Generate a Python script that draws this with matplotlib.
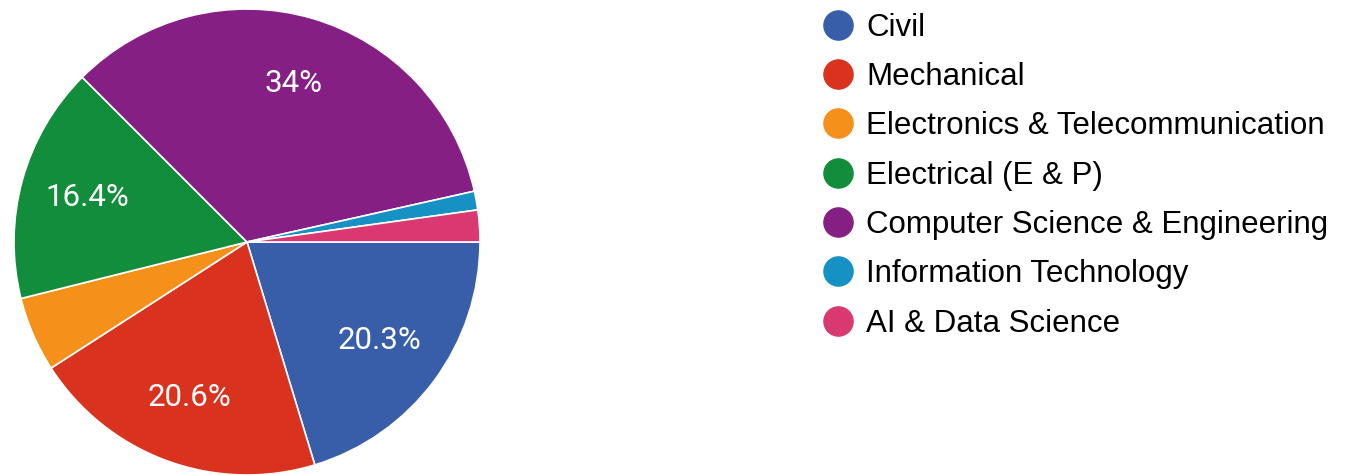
import matplotlib.pyplot as plt
from matplotlib.lines import Line2D

# Share of responses per branch (percent)
branches = ["Civil", "Mechanical", "Electronics & Telecommunication",
            "Electrical (E & P)", "Computer Science & Engineering",
            "Information Technology", "AI & Data Science"]
shares = [20.3, 20.6, 5.2, 16.4, 34.0, 1.3, 2.2]
colors = ["#385ea9", "#d9321f", "#f5901b", "#128d3c", "#861f84", "#1591c4", "#d93970"]


def pct_label(p):
    # small slices get no label, like the original chart
    if p < 10:
        return ""
    s = f"{p:.1f}"
    if s.endswith(".0"):
        s = s[:-2]
    return s + "%"


fig = plt.figure(figsize=(13.49, 4.75), dpi=100)
ax = fig.add_axes([14 / 1349, 0, 466 / 1349, 466 / 475])

wedges, texts, autotexts = ax.pie(
    shares, colors=colors, startangle=0, counterclock=False,
    autopct=pct_label, pctdistance=0.71,
    wedgeprops=dict(edgecolor="white", linewidth=1.2),
    textprops=dict(color="white", fontsize=22.5, family="Roboto"))
ax.set_xlim(-1, 1)
ax.set_ylim(-1, 1)
ax.set_aspect("equal")
ax.axis("off")

# Legend with round markers on the right
handles = [Line2D([], [], marker="o", linestyle="", markersize=21,
                  markerfacecolor=c, markeredgecolor=c) for c in colors]
fig.legend(handles, branches, loc="upper left", bbox_to_anchor=(804 / 1349, 1.0),
           frameon=False, labelspacing=0.62, handletextpad=0.2, handlelength=1.4,
           borderaxespad=0.0, prop=dict(family="Liberation Sans", size=22.5))

fig.savefig("out.png", dpi=100)
